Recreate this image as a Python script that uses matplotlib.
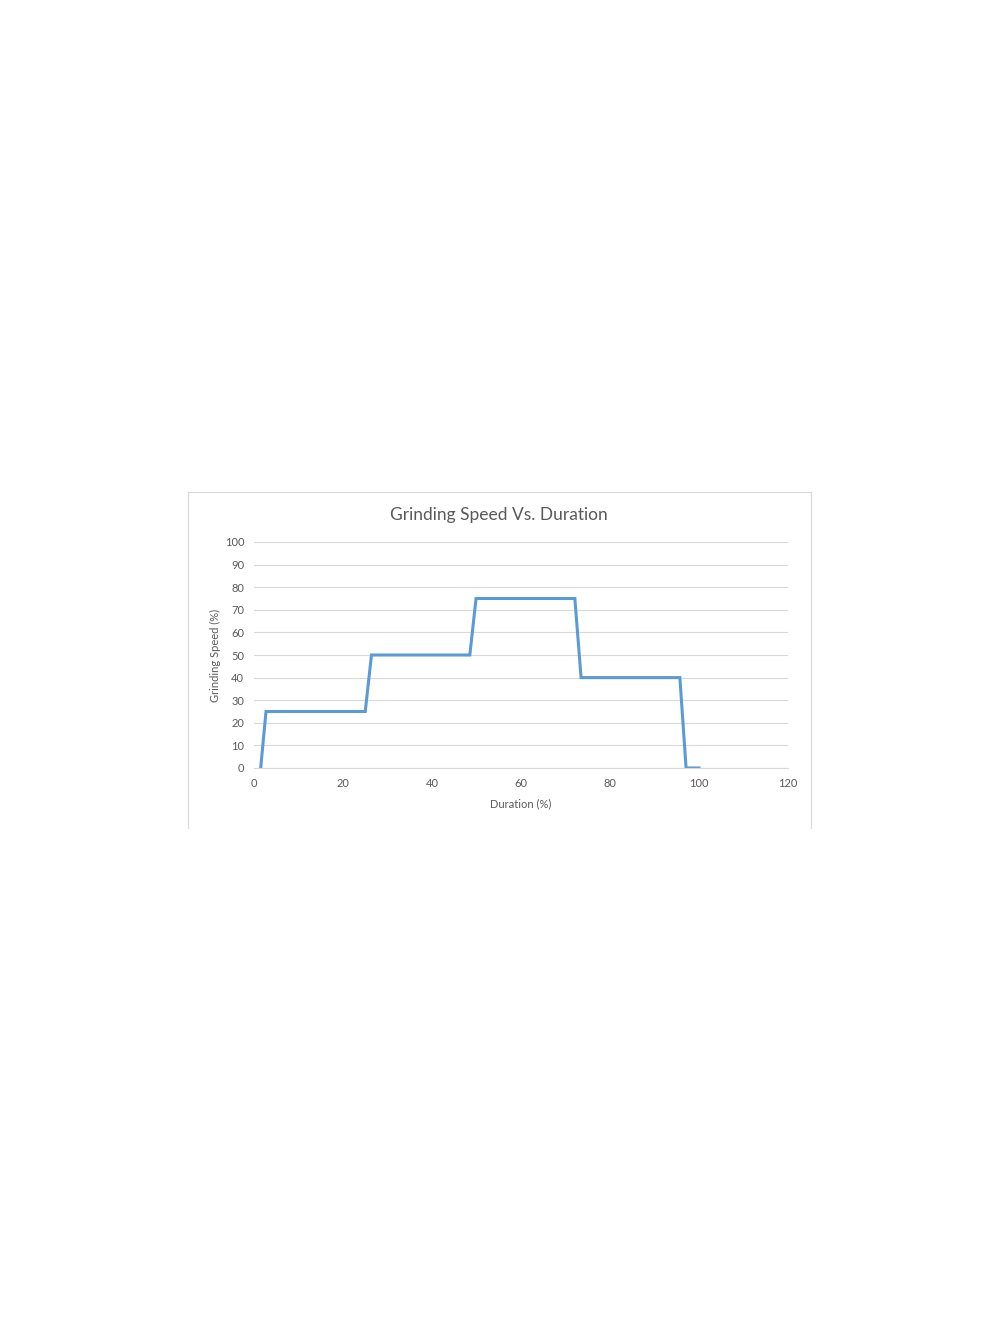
import matplotlib.pyplot as plt
from matplotlib.lines import Line2D

# step profile
duration = [1.5, 2.7, 25, 26.4, 48.5, 49.9, 72.1, 73.5, 95.7, 97.1, 100]
speed = [0, 25, 25, 50, 50, 75, 75, 40, 40, 0, 0]

x_ticks = [0, 20, 40, 60, 80, 100, 120]
y_ticks = [0, 10, 20, 30, 40, 50, 60, 70, 80, 90, 100]

plt.rcParams['font.family'] = ['Lato', 'DejaVu Sans']
text_col = '#595959'
grid_col = '#d9d9d9'

fig = plt.figure(figsize=(10, 13.2), dpi=100)
W, H = 1000, 1320

# chart area frame (bottom edge is cut off in the original)
fx0, fx1, fy0, fy1 = 188 / W, 811 / W, 1 - 492 / H, 1 - 828 / H
for xs, ys in [([fx0, fx1], [fy0, fy0]), ([fx0, fx0], [fy0, fy1]), ([fx1, fx1], [fy0, fy1])]:
    fig.add_artist(Line2D(xs, ys, transform=fig.transFigure, color=grid_col, lw=0.8))

ax = fig.add_axes([254 / W, 1 - 768 / H, 534 / W, 226 / H])
ax.plot(duration, speed, color='#5b9bd5', lw=2.2, solid_joinstyle='miter')

ax.set_xlim(0, 120)
ax.set_ylim(0, 100)
ax.set_xticks(x_ticks)
ax.set_yticks(y_ticks)
ax.grid(axis='y', color=grid_col, lw=0.8)
ax.set_axisbelow(True)
for s in ['top', 'right', 'left']:
    ax.spines[s].set_visible(False)
ax.spines['bottom'].set_color(grid_col)
ax.spines['bottom'].set_linewidth(0.8)
ax.tick_params(length=0, labelsize=8, colors=text_col, pad=7)

ax.set_xlabel('Duration (%)', fontsize=8, color=text_col, labelpad=7)
ax.set_ylabel('Grinding Speed (%)', fontsize=8, color=text_col, labelpad=3)
fig.text(499 / W, 1 - 515 / H, 'Grinding Speed Vs. Duration', ha='center', va='center',
         fontsize=12.5, color=text_col)

fig.savefig('out.png', dpi=100, facecolor='white')
